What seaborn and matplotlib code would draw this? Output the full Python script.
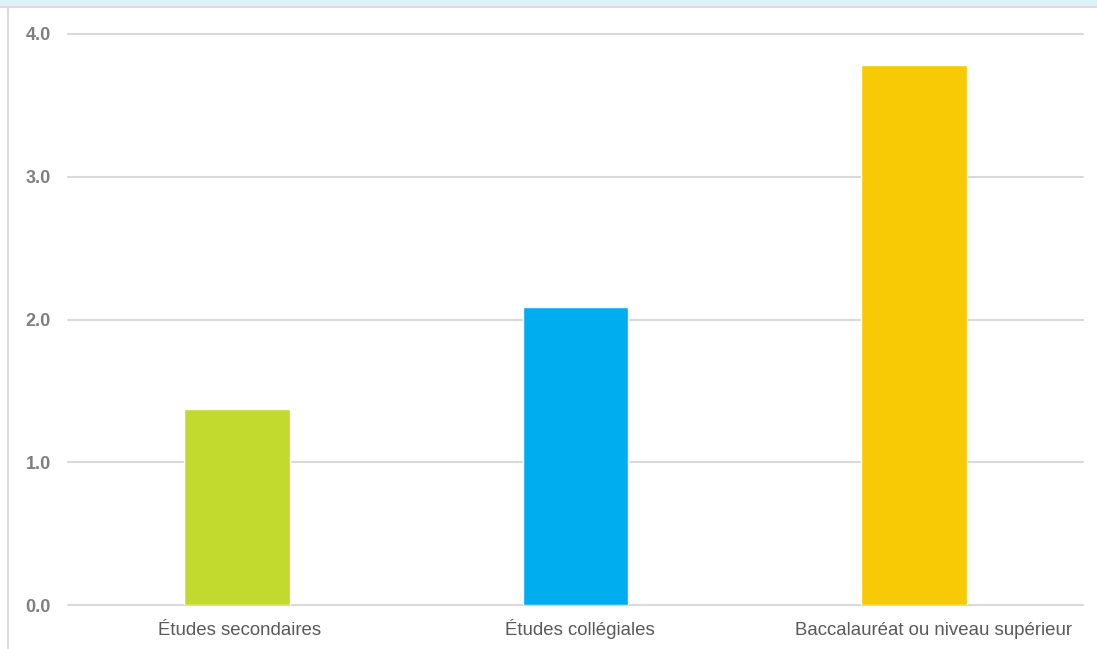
import matplotlib
matplotlib.use("Agg")
import matplotlib.pyplot as plt
import seaborn as sns
import pandas as pd
from matplotlib.patches import Rectangle
from matplotlib.lines import Line2D
from matplotlib.transforms import ScaledTranslation

categories = ["Études secondaires", "Études collégiales", "Baccalauréat ou niveau supérieur"]
values = [1.37, 2.09, 3.78]
colors = ["#c2d92e", "#00adef", "#f8ca05"]
yticks = [0.0, 1.0, 2.0, 3.0, 4.0]

sns.set_theme(style="white")
plt.rcParams['font.family'] = ['Liberation Sans', 'DejaVu Sans']

df = pd.DataFrame({"cat": categories, "val": values})

W, H = 1097, 649
fig = plt.figure(figsize=(W/100, H/100), dpi=100)
fig.patch.set_facecolor("white")
ax = fig.add_axes([68/W, 1-605/H, (1083-68)/W, (605-34)/H])

sns.barplot(data=df, x="cat", y="val", hue="cat", palette=colors, width=0.313,
            legend=False, ax=ax, saturation=1)

ax.set_xlim(-0.5, 2.5)
ax.set_ylim(0, 4.0)
ax.set_yticks(yticks)
ax.set_yticklabels([f"{t:.1f}" for t in yticks], fontsize=13, fontweight="bold", color="#7f7f7f")
ax.tick_params(axis="y", length=0, pad=12.2)
ax.tick_params(axis="x", length=0, pad=21.6, labelsize=13.4, labelcolor="#595959")
shifts = [2, 4, 20]
for lab, dx in zip(ax.get_xticklabels(), shifts):
    lab.set_verticalalignment("baseline")
    lab.set_transform(lab.get_transform() + ScaledTranslation(dx/100, 0, fig.dpi_scale_trans))
ax.set_xlabel("")
ax.set_ylabel("")
ax.yaxis.grid(True, color="#d9d9d9", linewidth=1.5)
ax.set_axisbelow(True)
for s in ax.spines.values():
    s.set_visible(False)
for gl in ax.get_ygridlines():
    gl.set_clip_on(False)

# decorative frame
fig.add_artist(Rectangle((0, 1-6/H), 1, 6/H, transform=fig.transFigure, color="#dff2fb", lw=0))
fig.add_artist(Line2D([0, 1], [1-7/H, 1-7/H], transform=fig.transFigure, color="#dcdcdc", lw=1.5))
fig.add_artist(Line2D([8/W, 8/W], [0, 1-7/H], transform=fig.transFigure, color="#dcdcdc", lw=1.5))

fig.savefig("out.png", dpi=100)
